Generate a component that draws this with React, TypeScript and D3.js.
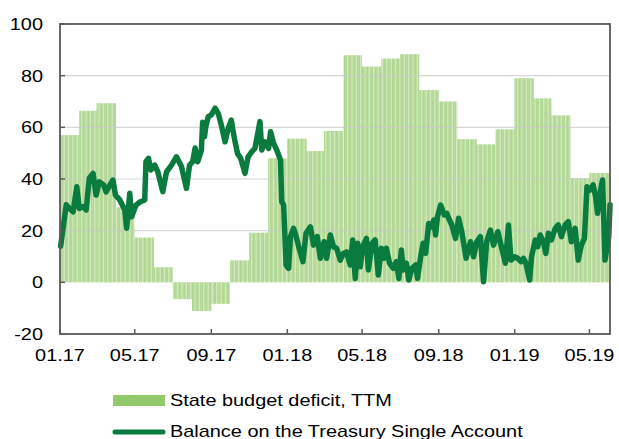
import React from "react";
import * as d3 from "d3";

// Monthly TTM state budget deficit (bars), month start "YYYY-MM"
const DEFICIT_MONTHS = [
  "2017-01", "2017-02", "2017-03", "2017-04", "2017-05", "2017-06",
  "2017-07", "2017-08", "2017-09", "2017-10", "2017-11", "2017-12",
  "2018-01", "2018-02", "2018-03", "2018-04", "2018-05", "2018-06",
  "2018-07", "2018-08", "2018-09", "2018-10", "2018-11", "2018-12",
  "2019-01", "2019-02", "2019-03", "2019-04", "2019-05",
];
const DEFICIT_VALUES = [
  57, 66.4, 69.3, 29, 17.3, 5.8,
  -6.5, -11.1, -8.3, 8.5, 19.2, 48,
  55.6, 50.8, 58.6, 87.9, 83.5, 86.6,
  88.3, 74.4, 70, 55.4, 53.4, 59.2,
  79, 71.2, 64.6, 40.3, 42.3,
];

// Balance on the Treasury Single Account (line)
const BALANCE_DATES = [
  "2017-01-02", "2017-01-06", "2017-01-11", "2017-01-16", "2017-01-22", "2017-01-28",
  "2017-02-01", "2017-02-07", "2017-02-12", "2017-02-17", "2017-02-23", "2017-02-28",
  "2017-03-05", "2017-03-12", "2017-03-16", "2017-03-22", "2017-03-27", "2017-03-31",
  "2017-04-07", "2017-04-15", "2017-04-18", "2017-04-23", "2017-04-26",
  "2017-05-03", "2017-05-10", "2017-05-17", "2017-05-19", "2017-05-23", "2017-05-27",
  "2017-06-02", "2017-06-07", "2017-06-15", "2017-06-21", "2017-06-29",
  "2017-07-07", "2017-07-15", "2017-07-23", "2017-07-28",
  "2017-08-02", "2017-08-06", "2017-08-10", "2017-08-16", "2017-08-18", "2017-08-21", "2017-08-23", "2017-08-27",
  "2017-09-01", "2017-09-07", "2017-09-12", "2017-09-17", "2017-09-23", "2017-09-28",
  "2017-10-03", "2017-10-08", "2017-10-13", "2017-10-18", "2017-10-25", "2017-10-30",
  "2017-11-05", "2017-11-10", "2017-11-14", "2017-11-18", "2017-11-21", "2017-11-26",
  "2017-12-02", "2017-12-05", "2017-12-10", "2017-12-15", "2017-12-21", "2017-12-23", "2017-12-26", "2017-12-30",
  "2018-01-03", "2018-01-06", "2018-01-11", "2018-01-15", "2018-01-19", "2018-01-26", "2018-01-31",
  "2018-02-07", "2018-02-12", "2018-02-18", "2018-02-23",
  "2018-03-01", "2018-03-05", "2018-03-11", "2018-03-16", "2018-03-21", "2018-03-27",
  "2018-04-01", "2018-04-06", "2018-04-12", "2018-04-16", "2018-04-20", "2018-04-24", "2018-04-28",
  "2018-05-02", "2018-05-08", "2018-05-11", "2018-05-17", "2018-05-22", "2018-05-27",
  "2018-06-01", "2018-06-05", "2018-06-09", "2018-06-14", "2018-06-20", "2018-06-25", "2018-06-29",
  "2018-07-03", "2018-07-06", "2018-07-11", "2018-07-15", "2018-07-20", "2018-07-26", "2018-07-29",
  "2018-08-03", "2018-08-07", "2018-08-11", "2018-08-16", "2018-08-21", "2018-08-24", "2018-08-27", "2018-08-30",
  "2018-09-04", "2018-09-10", "2018-09-14", "2018-09-17", "2018-09-22", "2018-09-28",
  "2018-10-03", "2018-10-08", "2018-10-15", "2018-10-22", "2018-10-27",
  "2018-11-01", "2018-11-07", "2018-11-12", "2018-11-17", "2018-11-23", "2018-11-28",
  "2018-12-05", "2018-12-10", "2018-12-17", "2018-12-22", "2018-12-26",
  "2019-01-01", "2019-01-06", "2019-01-11", "2019-01-15", "2019-01-19", "2019-01-25", "2019-01-28",
  "2019-02-03", "2019-02-07", "2019-02-11", "2019-02-16", "2019-02-20", "2019-02-24",
  "2019-03-01", "2019-03-07", "2019-03-12", "2019-03-17", "2019-03-23", "2019-03-28",
  "2019-04-02", "2019-04-08", "2019-04-13", "2019-04-18", "2019-04-23", "2019-04-27",
  "2019-05-02", "2019-05-07", "2019-05-11", "2019-05-14", "2019-05-18", "2019-05-22", "2019-05-26",
  "2019-06-01", "2019-06-03",
];
const BALANCE_VALUES = [
  14, 21, 30, 28.6, 27.3, 37,
  28.6, 29.3, 28, 40.3, 42.2, 33.8,
  38.9, 37.7, 35, 37.7, 39.6, 33.8,
  31.9, 28, 20.9, 34.5, 25.4,
  29.9, 31.2, 31.9, 46.7, 48, 43.5,
  45.4, 42.8, 35.1, 42.8, 45.4,
  48.6, 44.8, 36.4, 45.4,
  46.7, 52, 46.7, 51.2, 62, 56.4, 60.2, 64.1,
  64.8, 67.4, 65.4, 60.9, 54.4, 59.6,
  62.8, 55.7, 49.9, 48, 42.2, 48.6,
  50.6, 51.9, 57, 62.2, 51.2, 54.4,
  51.9, 58.3, 53.8, 51.2, 47.3, 31.2, 30, 6.7,
  5.4, 17.7, 20.9, 18, 14, 8, 19,
  21.5, 14.4, 17.7, 9.3,
  15.7, 9.3, 18.3, 13.8, 13.2, 8.6,
  11.2, 11.8, 6.7, 16.4, 1.5, 15.1, 6,
  13.8, 17, 4.8, 15.1, 16.4, 2.8,
  13.2, 9.3, 13.2, 7.4, 5.4, 8, 1.5,
  12.5, 4.8, 7.4, 0.9, 5.4, 6.7, 1.5,
  9.9, 15.1, 11.2, 22.8, 21.5, 24.1, 18.3, 25.4,
  29.9, 26.1, 26.7, 24.8, 22.2, 17,
  24.8, 19.6, 9.3, 15.7, 9.9,
  15.7, 17.7, 0.2, 15.7, 20.2, 14.4,
  19.6, 14.4, 7.4, 22.2, 8.6,
  9.9, 9.3, 8, 9.3, 7.4, 0.9, 9.9,
  16.4, 13.8, 18.3, 15.7, 11.2, 19,
  16.4, 20.9, 22.2, 17.7, 22.2, 23.5,
  15.7, 20.9, 8.6, 14.4, 17, 37,
  35.7, 37.7, 33.1, 26.7, 34.5, 39.6, 8.6,
  17.7, 30,
];

const Y_TICKS = [-20, 0, 20, 40, 60, 80, 100];
const X_TICK_DATES = ["2017-01-01", "2017-05-01", "2017-09-01", "2018-01-01", "2018-05-01", "2018-09-01", "2019-01-01", "2019-05-01"];
const X_TICK_LABELS = ["01.17", "05.17", "09.17", "01.18", "05.18", "09.18", "01.19", "05.19"];
const DOMAIN_START = "2017-01-01";
const DOMAIN_END = "2019-06-03";

const SERIES_NAMES = ["State budget deficit, TTM", "Balance on the Treasury Single Account"];

const W = 619;
const H = 439;
const LEFT = 60;
const RIGHT = 610;
const TOP = 24;
const BOTTOM = 334;

const BAR_LIGHT = "#d3e9c0";
const BAR_DARK = "#8cc563";
const LINE_COLOR = "#0a7b3f";
const AXIS_COLOR = "#5a5a5a";
const GRID_COLOR = "#c9c9c9";
const FONT = "'Liberation Sans', Arial, sans-serif";
const SX = 1.17;

const parse = d3.utcParse("%Y-%m-%d");
const parseMonth = d3.utcParse("%Y-%m");

export default function App() {
  const x = d3.scaleUtc().domain([parse(DOMAIN_START)!, parse(DOMAIN_END)!]).range([LEFT, RIGHT]);
  const y = d3.scaleLinear().domain([-20, 100]).range([BOTTOM, TOP]);
  const end = parse(DOMAIN_END)!;

  const months = DEFICIT_MONTHS.map((m, i) => {
    const start = parseMonth(m)!;
    const next = i === DEFICIT_MONTHS.length - 1 ? end : d3.utcMonth.offset(start, 1);
    return { start, next, v: DEFICIT_VALUES[i] };
  });

  const dayBars: { d: Date; v: number }[] = [];
  months.forEach((m) => {
    d3.utcDay.range(m.start, m.next).forEach((d) => {
      const wd = d.getUTCDay();
      if (wd !== 0 && wd !== 6) dayBars.push({ d, v: m.v });
    });
  });

  const linePts = BALANCE_DATES.map((s, i) => ({ d: parse(s)!, v: BALANCE_VALUES[i] }));
  const line = d3.line<{ d: Date; v: number }>().x((p) => x(p.d)).y((p) => y(p.v));

  const y0 = y(0);

  return (
    <div style={{ position: "absolute", left: 0, top: 0 }}>
      <svg width={W} height={H} style={{ display: "block", background: "#fff" }}>
        {months.map((m, i) => (
          <rect
            key={"m" + i}
            x={x(m.start)}
            width={x(m.next) - x(m.start)}
            y={Math.min(y(m.v), y0)}
            height={Math.abs(y(m.v) - y0)}
            fill={BAR_LIGHT}
          />
        ))}
        {dayBars.map((b, i) => (
          <rect
            key={"d" + i}
            x={x(b.d)}
            width={0.3}
            y={Math.min(y(b.v), y0)}
            height={Math.abs(y(b.v) - y0)}
            fill={BAR_DARK}
          />
        ))}
        {Y_TICKS.filter((t) => t > -20 && t < 100 && t !== 0).map((t) => (
          <line key={"g" + t} x1={LEFT} x2={RIGHT} y1={y(t)} y2={y(t)} stroke={GRID_COLOR} strokeOpacity={0.75} strokeWidth={1.2} />
        ))}
        <path d={line(linePts) || ""} fill="none" stroke={LINE_COLOR} strokeWidth={5.5} strokeLinejoin="round" strokeLinecap="round" />
        <rect x={LEFT} y={TOP} width={RIGHT - LEFT} height={BOTTOM - TOP} fill="none" stroke={AXIS_COLOR} strokeWidth={1.8} />
        {Y_TICKS.map((t) => (
          <g key={"y" + t}>
            <line x1={LEFT} x2={LEFT + 5} y1={y(t)} y2={y(t)} stroke={AXIS_COLOR} strokeWidth={1.5} />
            <text
              transform={`translate(43,${y(t) + 6}) scale(${SX},1)`}
              textAnchor="end"
              fontFamily={FONT}
              fontSize={17}
              fill="#000"
            >
              {t}
            </text>
          </g>
        ))}
        {X_TICK_DATES.map((s, i) => {
          const xx = x(parse(s)!);
          return (
            <g key={"x" + i}>
              <line x1={xx} x2={xx} y1={BOTTOM} y2={BOTTOM - 5} stroke={AXIS_COLOR} strokeWidth={1.5} />
              <text
                transform={`translate(${xx},${361}) scale(${SX},1)`}
                textAnchor="middle"
                fontFamily={FONT}
                fontSize={17}
                fill="#000"
              >
                {X_TICK_LABELS[i]}
              </text>
            </g>
          );
        })}
        <rect x={113} y={395} width={52} height={11} fill="#92c96a" />
        <text transform={`translate(170,406) scale(${SX},1)`} fontFamily={FONT} fontSize={17} fill="#000">
          {SERIES_NAMES[0]}
        </text>
        <line x1={115} x2={163} y1={432} y2={432} stroke={LINE_COLOR} strokeWidth={5} strokeLinecap="round" />
        <text transform={`translate(170,436.5) scale(${SX},1)`} fontFamily={FONT} fontSize={17} fill="#000">
          {SERIES_NAMES[1]}
        </text>
      </svg>
    </div>
  );
}
